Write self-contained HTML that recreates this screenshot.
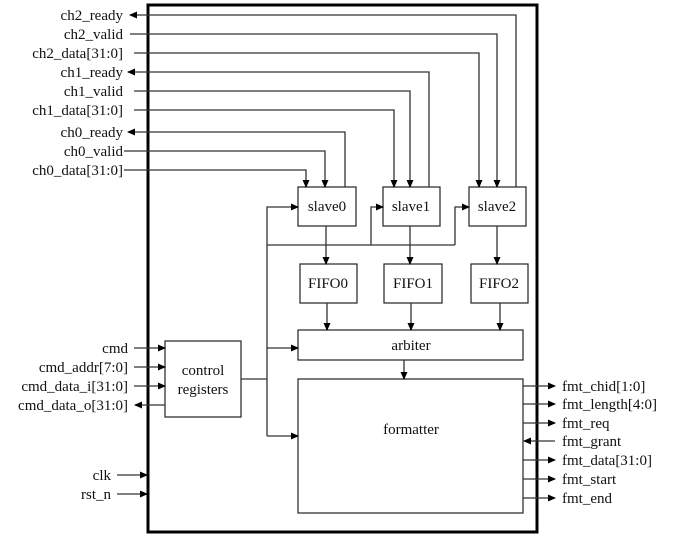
<!DOCTYPE html>
<html><head><meta charset="utf-8"><style>
html,body{margin:0;padding:0;background:#fff;width:693px;height:537px;overflow:hidden}
svg text{font-family:"Liberation Serif","Times New Roman",Times,"Noto Serif CJK SC",serif !important;font-size:15px;fill:#111}
</style></head><body>
<svg width="693" height="537" viewBox="0 0 693 537" xmlns="http://www.w3.org/2000/svg">
<defs><marker id="a" markerWidth="8" markerHeight="8" refX="7" refY="4" orient="auto" markerUnits="userSpaceOnUse"><path d="M0,0.5 L8,4 L0,7.5 Z" fill="#000"/></marker></defs>
<rect x="148" y="5" width="389" height="527" fill="none" stroke="#000" stroke-width="3"/>
<g fill="#fff" stroke="#222" stroke-width="1.2">
<rect x="298" y="187" width="58" height="39"/><rect x="383" y="187" width="57" height="39"/><rect x="469" y="187" width="57" height="39"/>
<rect x="300" y="264" width="57" height="39"/><rect x="384" y="264" width="58" height="39"/><rect x="471" y="264" width="57" height="39"/>
<rect x="298" y="330" width="225" height="30"/><rect x="298" y="379" width="225" height="134"/>
<rect x="165" y="341" width="76" height="76"/>
</g>
<g fill="none" stroke="#333" stroke-width="1.3">
<path d="M516,187 V15 H130" marker-end="url(#a)"/>
<path d="M130,34 H497 V187" marker-end="url(#a)"/>
<path d="M134,53 H479 V187" marker-end="url(#a)"/>
<path d="M429,187 V72 H128" marker-end="url(#a)"/>
<path d="M134,91 H410 V187" marker-end="url(#a)"/>
<path d="M134,110 H394 V187" marker-end="url(#a)"/>
<path d="M345,187 V132 H128" marker-end="url(#a)"/>
<path d="M124,151 H325 V187" marker-end="url(#a)"/>
<path d="M124,170 H306 V187" marker-end="url(#a)"/>
<path d="M326,226 V264" marker-end="url(#a)"/><path d="M410,226 V264" marker-end="url(#a)"/><path d="M497,226 V264" marker-end="url(#a)"/>
<path d="M327,303 V330" marker-end="url(#a)"/><path d="M411,303 V330" marker-end="url(#a)"/><path d="M500,303 V330" marker-end="url(#a)"/>
<path d="M404,360 V379" marker-end="url(#a)"/>
<path d="M267,436 V207 H298" marker-end="url(#a)"/>
<path d="M267,245 H455"/>
<path d="M371,245 V207 H383" marker-end="url(#a)"/>
<path d="M455,245 V207 H469" marker-end="url(#a)"/>
<path d="M241,379 H267"/>
<path d="M267,348 H298" marker-end="url(#a)"/>
<path d="M267,436 H298" marker-end="url(#a)"/>
<path d="M134,348 H165" marker-end="url(#a)"/><path d="M134,367 H165" marker-end="url(#a)"/><path d="M134,386 H165" marker-end="url(#a)"/>
<path d="M165,405 H135" marker-end="url(#a)"/>
<path d="M117,475 H147" marker-end="url(#a)"/><path d="M117,494 H147" marker-end="url(#a)"/>
<path d="M523,386 H555" marker-end="url(#a)"/><path d="M523,404 H555" marker-end="url(#a)"/><path d="M523,423 H555" marker-end="url(#a)"/>
<path d="M555,441 H524" marker-end="url(#a)"/>
<path d="M523,460 H555" marker-end="url(#a)"/><path d="M523,479 H555" marker-end="url(#a)"/><path d="M523,498 H555" marker-end="url(#a)"/>
</g>
<g text-anchor="end">
<text x="123" y="20">ch2_ready</text><text x="123" y="39">ch2_valid</text><text x="123" y="58">ch2_data[31:0]</text>
<text x="123" y="77">ch1_ready</text><text x="123" y="96">ch1_valid</text><text x="123" y="115">ch1_data[31:0]</text>
<text x="123" y="137">ch0_ready</text><text x="123" y="156">ch0_valid</text><text x="123" y="175">ch0_data[31:0]</text>
<text x="128" y="353">cmd</text><text x="128" y="372">cmd_addr[7:0]</text><text x="128" y="391">cmd_data_i[31:0]</text><text x="128" y="410">cmd_data_o[31:0]</text>
<text x="111" y="480">clk</text><text x="111" y="499">rst_n</text>
</g>
<g text-anchor="middle">
<text x="327" y="211">slave0</text><text x="411" y="211">slave1</text><text x="497" y="211">slave2</text>
<text x="328" y="288">FIFO0</text><text x="413" y="288">FIFO1</text><text x="499" y="288">FIFO2</text>
<text x="411" y="350">arbiter</text><text x="411" y="434">formatter</text>
<text x="203" y="375">control</text><text x="203" y="394">registers</text>
</g>
<g>
<text x="562" y="391">fmt_chid[1:0]</text><text x="562" y="409">fmt_length[4:0]</text><text x="562" y="428">fmt_req</text>
<text x="562" y="446">fmt_grant</text><text x="562" y="465">fmt_data[31:0]</text><text x="562" y="484">fmt_start</text><text x="562" y="503">fmt_end</text>
</g>
</svg>
</body></html>
